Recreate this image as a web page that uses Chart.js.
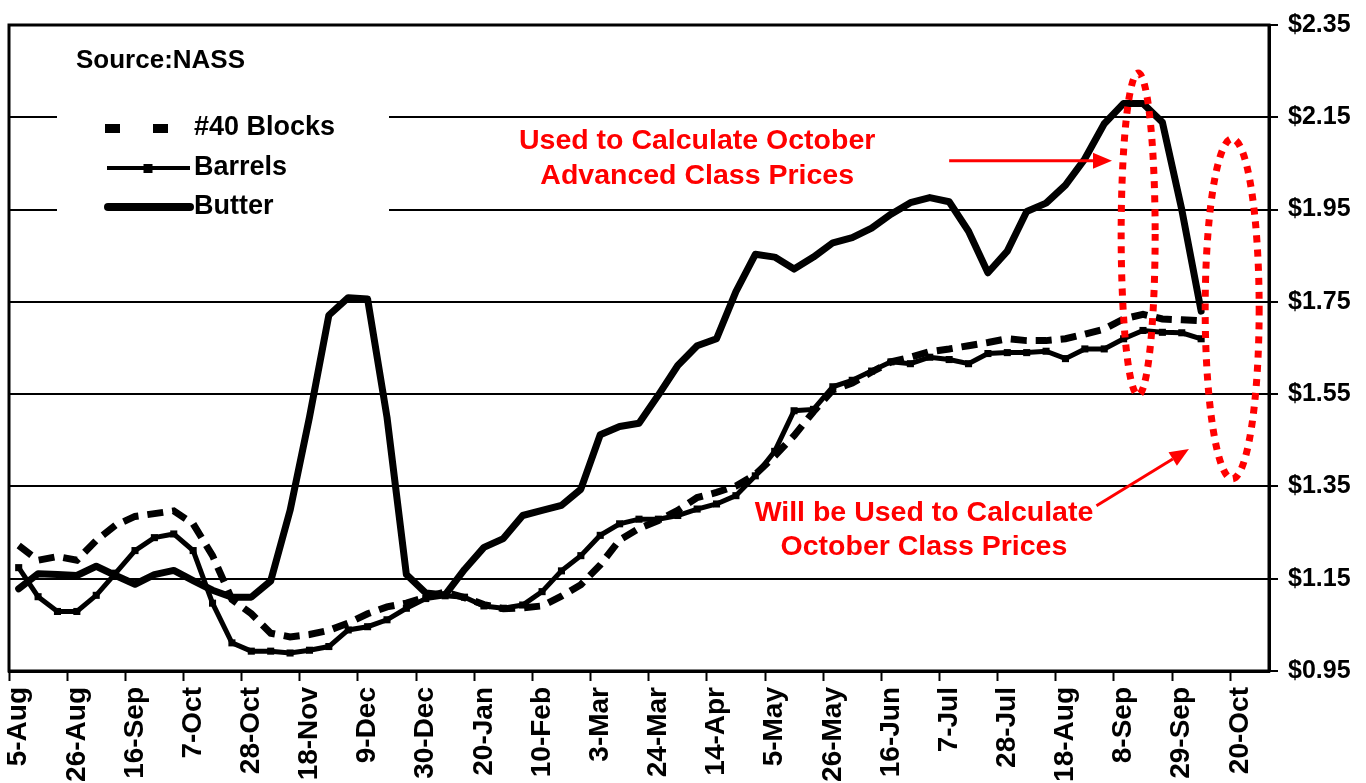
<!DOCTYPE html>
<html>
<head>
<meta charset="utf-8">
<script src="https://cdn.jsdelivr.net/npm/chart.js@4.4.1/dist/chart.umd.min.js"></script>
<style>
  html, body { margin: 0; padding: 0; background: #fff; }
  #wrap { width: 1366px; height: 783px; }
</style>
</head>
<body>
<div id="wrap"><canvas id="chart" width="1366" height="783"></canvas></div>
<script>
// weekly categories, a label shown every 3rd week
const WEEKS = [
  "5-Aug", "12-Aug", "19-Aug", "26-Aug", "2-Sep", "9-Sep", "16-Sep", "23-Sep", "30-Sep",
  "7-Oct", "14-Oct", "21-Oct", "28-Oct", "4-Nov", "11-Nov", "18-Nov", "25-Nov", "2-Dec",
  "9-Dec", "16-Dec", "23-Dec", "30-Dec", "6-Jan", "13-Jan", "20-Jan", "27-Jan", "3-Feb",
  "10-Feb", "17-Feb", "24-Feb", "3-Mar", "10-Mar", "17-Mar", "24-Mar", "31-Mar", "7-Apr",
  "14-Apr", "21-Apr", "28-Apr", "5-May", "12-May", "19-May", "26-May", "2-Jun", "9-Jun",
  "16-Jun", "23-Jun", "30-Jun", "7-Jul", "14-Jul", "21-Jul", "28-Jul", "4-Aug", "11-Aug",
  "18-Aug", "25-Aug", "1-Sep", "8-Sep", "15-Sep", "22-Sep", "29-Sep", "6-Oct", "13-Oct",
  "20-Oct", "27-Oct"
];

const BLOCKS = [
  1.222, 1.190, 1.198, 1.190, 1.233, 1.266, 1.285, 1.291, 1.297, 1.269,
  1.200, 1.105, 1.074, 1.032, 1.024, 1.029, 1.038, 1.054, 1.074, 1.089,
  1.097, 1.110, 1.121, 1.109, 1.094, 1.085, 1.087, 1.091, 1.112, 1.137,
  1.180, 1.234, 1.259, 1.276, 1.298, 1.326, 1.337, 1.351, 1.376, 1.416,
  1.460, 1.512, 1.559, 1.574, 1.598, 1.620, 1.630, 1.642, 1.648, 1.655,
  1.662, 1.670, 1.666, 1.666, 1.670, 1.680, 1.691, 1.713, 1.723, 1.713,
  1.711, 1.709
];

const BARRELS = [
  1.174, 1.111, 1.079, 1.079, 1.114, 1.162, 1.211, 1.239, 1.247, 1.211,
  1.097, 1.011, 0.993, 0.993, 0.989, 0.995, 1.003, 1.039, 1.046, 1.061,
  1.086, 1.107, 1.113, 1.110, 1.091, 1.086, 1.093, 1.122, 1.167, 1.200,
  1.244, 1.269, 1.279, 1.279, 1.287, 1.301, 1.312, 1.330, 1.373, 1.426,
  1.514, 1.517, 1.566, 1.580, 1.600, 1.620, 1.616, 1.630, 1.625, 1.616,
  1.638, 1.640, 1.640, 1.643, 1.627, 1.648, 1.648, 1.670, 1.688, 1.684,
  1.683, 1.670
];

const BUTTER = [
  1.128, 1.161, 1.159, 1.157, 1.177, 1.157, 1.138, 1.159, 1.168, 1.146,
  1.125, 1.110, 1.110, 1.145, 1.298, 1.500, 1.721, 1.759, 1.756, 1.500,
  1.159, 1.119, 1.115, 1.170, 1.218, 1.237, 1.287, 1.298, 1.309, 1.344,
  1.462, 1.480, 1.487, 1.548, 1.612, 1.655, 1.670, 1.772, 1.853, 1.847,
  1.821, 1.847, 1.878, 1.889, 1.910, 1.940, 1.965, 1.976, 1.967, 1.903,
  1.813, 1.860, 1.946, 1.964, 2.003, 2.060, 2.136, 2.180, 2.180, 2.139,
  1.950, 1.730
];

const Y_TICKS = [0.95, 1.15, 1.35, 1.55, 1.75, 1.95, 2.15, 2.35];

const SOURCE = "Source:NASS";
const NOTE_ADVANCED = ["Used to Calculate October", "Advanced Class Prices"];
const NOTE_CLASS = ["Will be Used to Calculate", "October Class Prices"];

const FONT = "'Liberation Sans', Arial, sans-serif";
const RED = "#ff0000";

function arrow(ctx, x1, y1, x2, y2) {
  const ang = Math.atan2(y2 - y1, x2 - x1);
  const len = 19, half = 8;
  const bx = x2 - len * Math.cos(ang), by = y2 - len * Math.sin(ang);
  ctx.beginPath();
  ctx.moveTo(x1, y1);
  ctx.lineTo(bx, by);
  ctx.stroke();
  ctx.beginPath();
  ctx.moveTo(x2, y2);
  ctx.lineTo(bx + half * Math.sin(ang), by - half * Math.cos(ang));
  ctx.lineTo(bx - half * Math.sin(ang), by + half * Math.cos(ang));
  ctx.closePath();
  ctx.fill();
}

function dottedEllipse(ctx, cx, cy, rx, ry) {
  ctx.save();
  ctx.setLineDash([7, 7]);
  ctx.lineWidth = 7;
  ctx.strokeStyle = RED;
  ctx.beginPath();
  ctx.ellipse(cx, cy, rx, ry, 0, 0, Math.PI * 2);
  ctx.stroke();
  ctx.restore();
}

const decorations = {
  id: "decorations",
  beforeDatasetsDraw(chart) {
    const { ctx, chartArea: a } = chart;
    ctx.save();

    // frame
    ctx.strokeStyle = "#000";
    ctx.lineWidth = 3;
    ctx.strokeRect(a.left, a.top, a.right - a.left, a.bottom - a.top);

    // source
    ctx.fillStyle = "#000";
    ctx.font = "bold 26px " + FONT;
    ctx.textAlign = "left";
    ctx.textBaseline = "middle";
    ctx.fillText(SOURCE, a.left + 67, a.top + 36);

    // legend (white box hides the grid lines)
    ctx.fillStyle = "#fff";
    ctx.fillRect(a.left + 48, a.top + 72, 332, 130);

    const sx0 = a.left + 96, sx1 = a.left + 181, tx = a.left + 185;
    const rows = [a.top + 103, a.top + 143, a.top + 182];
    const ds = chart.data.datasets;

    ctx.fillStyle = "#000";
    ctx.strokeStyle = "#000";
    // blocks
    ctx.fillRect(sx0, rows[0] - 4, 15, 9);
    ctx.fillRect(sx0 + 48, rows[0] - 4, 15, 9);
    // barrels
    ctx.lineWidth = 4;
    ctx.beginPath();
    ctx.moveTo(sx0 + 2, rows[1]);
    ctx.lineTo(sx1, rows[1]);
    ctx.stroke();
    ctx.fillRect((sx0 + sx1) / 2 - 4, rows[1] - 4, 9, 9);
    // butter
    ctx.lineWidth = 8;
    ctx.lineCap = "round";
    ctx.beginPath();
    ctx.moveTo(sx0 + 3, rows[2]);
    ctx.lineTo(sx1, rows[2]);
    ctx.stroke();

    ctx.font = "bold 27px " + FONT;
    ctx.textBaseline = "middle";
    ds.forEach((d, i) => ctx.fillText(d.label, tx, rows[i]));

    ctx.restore();
  },
  afterDatasetsDraw(chart) {
    const { ctx } = chart;
    const xs = chart.scales.x, ys = chart.scales.y;
    const px = (i) => xs.getPixelForValue(i);
    const py = (v) => ys.getPixelForValue(v);
    ctx.save();

    dottedEllipse(ctx, px(57.75), py(1.897), 17, 161);
    dottedEllipse(ctx, px(62.6), py(1.735), 27, 170);

    ctx.fillStyle = RED;
    ctx.strokeStyle = RED;
    ctx.lineWidth = 3;
    arrow(ctx, px(48.0), py(2.056), px(56.4), py(2.056));
    arrow(ctx, px(55.6), py(1.308), px(60.37), py(1.431));

    ctx.font = "bold 28.5px " + FONT;
    ctx.textAlign = "center";
    ctx.textBaseline = "middle";
    ctx.fillText(NOTE_ADVANCED[0], px(35.0), py(2.099));
    ctx.fillText(NOTE_ADVANCED[1], px(35.0), py(2.022));
    ctx.fillText(NOTE_CLASS[0], px(46.7), py(1.293));
    ctx.fillText(NOTE_CLASS[1], px(46.7), py(1.218));

    ctx.restore();
  }
};

new Chart(document.getElementById("chart"), {
  type: "line",
  data: {
    labels: WEEKS,
    datasets: [
      {
        label: "#40 Blocks",
        data: BLOCKS,
        borderColor: "#000",
        borderWidth: 7,
        borderDash: [16, 9],
        pointRadius: 0,
        tension: 0,
      },
      {
        label: "Barrels",
        data: BARRELS,
        borderColor: "#000",
        borderWidth: 5,
        pointStyle: "rect",
        pointRadius: 5,
        pointBackgroundColor: "#000",
        pointBorderWidth: 0,
        tension: 0,
      },
      {
        label: "Butter",
        data: BUTTER,
        borderColor: "#000",
        borderWidth: 7,
        borderJoinStyle: "round",
        borderCapStyle: "round",
        pointRadius: 0,
        tension: 0,
      },
    ],
  },
  options: {
    responsive: false,
    animation: false,
    devicePixelRatio: 1,
    layout: { padding: { left: 9, top: 20, right: 0, bottom: 0 } },
    plugins: {
      legend: { display: false },
      tooltip: { enabled: false },
    },
    scales: {
      x: {
        type: "category",
        offset: true,
        grid: {
          offset: true,
          drawOnChartArea: false,
          tickLength: 10,
          tickWidth: 2,
          tickColor: (c) => (c.index % 3 === 0 ? "#000" : "rgba(0,0,0,0)"),
        },
        border: { display: true, color: "#000", width: 3 },
        ticks: {
          autoSkip: false,
          maxRotation: 90,
          minRotation: 90,
          padding: 6,
          color: "#000",
          font: { family: FONT, size: 28, weight: "bold" },
          callback: (v, i) => (i % 3 === 0 ? WEEKS[i] : ""),
        },
        afterFit: (s) => { s.height = 112; },
      },
      y: {
        position: "right",
        min: 0.95,
        max: 2.35,
        afterBuildTicks: (s) => { s.ticks = Y_TICKS.map((v) => ({ value: v })); },
        grid: {
          color: "#000",
          lineWidth: 2,
          tickLength: 9,
          tickColor: "#000",
        },
        border: { display: true, color: "#000", width: 3 },
        ticks: {
          padding: 10,
          color: "#000",
          font: { family: FONT, size: 25, weight: "bold" },
          callback: (v) => "$" + Number(v).toFixed(2),
        },
        afterFit: (s) => { s.width = 97; },
      },
    },
  },
  plugins: [decorations],
});
</script>
</body>
</html>
